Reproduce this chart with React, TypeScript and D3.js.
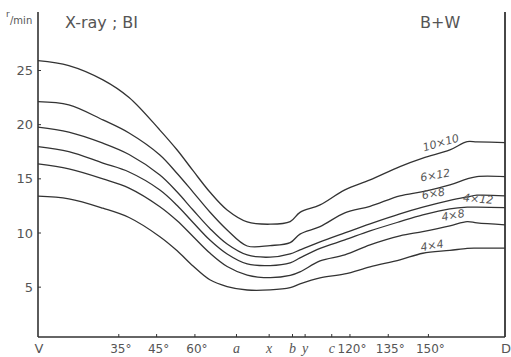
import React from "react";
import { scaleLinear, line, curveCatmullRom } from "d3";

// position along the abscissa, 0 = V, 100 = D
const positions = [0, 6.6, 13.9, 19.5, 26.1, 29.8, 33.2, 36.8, 40.5, 44.8, 49.7, 54, 56.1, 60.4, 65.7, 71.1, 77.5, 82.4, 88.2, 91.9, 94, 100];

const s10x10 = [25.92, 25.46, 24.14, 22.51, 19.5, 17.66, 15.75, 13.78, 12.12, 11.02, 10.81, 11.05, 11.9, 12.59, 13.98, 14.9, 16.13, 16.91, 17.67, 18.44, 18.41, 18.35];
const s6x12 = [22.13, 21.83, 20.44, 19.23, 17.2, 15.49, 13.78, 11.94, 10.28, 8.8, 8.84, 9.11, 9.9, 10.59, 11.86, 12.46, 13.43, 13.82, 14.44, 15.0, 15.21, 15.21];
const s6x8 = [19.77, 19.31, 18.29, 17.25, 15.35, 13.78, 12.12, 10.42, 8.98, 7.97, 7.77, 8.07, 8.44, 9.18, 10.01, 10.84, 11.76, 12.38, 13.01, 13.33, 13.49, 13.43];
const s4x12 = [17.98, 17.52, 16.45, 15.63, 13.97, 12.54, 10.97, 9.35, 8.06, 7.14, 6.99, 7.24, 7.7, 8.58, 9.36, 10.19, 11.05, 11.67, 12.23, 12.38, 12.38, 12.35];
const s4x8 = [16.38, 15.92, 15.0, 14.15, 12.43, 11.13, 9.68, 8.15, 6.91, 6.12, 5.88, 6.08, 6.41, 7.42, 7.98, 8.9, 9.73, 10.13, 10.66, 11.05, 10.93, 10.75];
const s4x4 = [13.4, 13.15, 12.29, 11.43, 9.66, 8.36, 6.95, 5.68, 5.06, 4.74, 4.75, 4.96, 5.3, 5.85, 6.22, 6.87, 7.52, 8.13, 8.39, 8.58, 8.6, 8.6];

const seriesNames = ["10×10", "6×12", "6×8", "4×12", "4×8", "4×4"];
const seriesValues = [s10x10, s6x12, s6x8, s4x12, s4x8, s4x4];
// where each curve's label sits: [position, value, rotation]
const labelPlace: [number, number, number][] = [
  [86.5, 18.0, -16],
  [85.2, 15.0, -10],
  [84.8, 13.3, -10],
  [94.2, 12.8, 5],
  [89.0, 11.3, -10],
  [84.5, 8.5, -10],
];

const xTickPos = [17.3, 25.4, 33.6, 42.5, 49.5, 54.5, 57.2, 62.9, 66.8, 75.0, 83.6];
const xTickLabels = ["35°", "45°", "60°", "a", "x", "b", "y", "c", "120°", "135°", "150°"];
const italicLabels = ["a", "x", "b", "y", "c"];
const yTicks = [5, 10, 15, 20, 25];

const W = 511;
const H = 357;

export default function App() {
  const x = scaleLinear().domain([0, 100]).range([38, 505]);
  const y = scaleLinear().domain([0.4, 30.4]).range([337, 12]);

  const path = line<number>()
    .x((_, i) => x(positions[i]))
    .y((d) => y(d))
    .curve(curveCatmullRom.alpha(0.5));

  const ink = "#333";
  const grey = "#555";

  return (
    <svg
      width={W}
      height={H}
      style={{ position: "absolute", left: 0, top: 0, background: "#fff" }}
      fontFamily="DejaVu Sans, sans-serif"
    >
      {/* frame */}
      <line x1={x(0)} x2={x(0)} y1={y(30.4)} y2={y(0.4)} stroke={ink} strokeWidth={1.6} />
      <line x1={x(100)} x2={x(100)} y1={y(30.4)} y2={y(0.4)} stroke={ink} strokeWidth={1.8} />
      <line x1={x(0)} x2={x(100)} y1={y(0.4)} y2={y(0.4)} stroke={ink} strokeWidth={1.6} />

      {/* y ticks */}
      {yTicks.map((t) => (
        <g key={t}>
          <line x1={x(0)} x2={x(0) + 3} y1={y(t)} y2={y(t)} stroke={ink} strokeWidth={1} />
          <text x={x(0) - 5} y={y(t)} dy="0.35em" textAnchor="end" fontSize={13} fill={grey}>
            {t}
          </text>
        </g>
      ))}
      <text x={6} y={17} fontSize={9} fill={grey}>r</text>
      <text x={10} y={24} fontSize={10} fill={grey}>/min</text>

      {/* x ticks */}
      {xTickPos.map((p, i) => (
        <g key={i}>
          <line x1={x(p)} x2={x(p)} y1={y(0.4)} y2={y(0.4) - 3} stroke={ink} strokeWidth={1} />
          <text
            x={x(p) + (italicLabels.includes(xTickLabels[i]) ? 0 : 2)}
            y={353}
            textAnchor="middle"
            fontSize={italicLabels.includes(xTickLabels[i]) ? 14 : 12}
            fontStyle={italicLabels.includes(xTickLabels[i]) ? "italic" : "normal"}
            fontFamily={italicLabels.includes(xTickLabels[i]) ? "Liberation Serif, serif" : undefined}
            fill={grey}
          >
            {xTickLabels[i]}
          </text>
        </g>
      ))}
      <text x={x(0) + 1} y={353} textAnchor="middle" fontSize={13} fill={grey}>V</text>
      <text x={x(100) + 1} y={353} textAnchor="middle" fontSize={13} fill={grey}>D</text>

      {/* curves */}
      {seriesValues.map((vals, i) => (
        <path key={seriesNames[i]} d={path(vals) || ""} fill="none" stroke={ink} strokeWidth={1.3} />
      ))}
      {seriesNames.map((n, i) => {
        const [p, v, r] = labelPlace[i];
        return (
          <text
            key={n}
            x={x(p)}
            y={y(v)}
            textAnchor="middle"
            fontSize={11}
            fontStyle="italic"
            fill={grey}
            transform={`rotate(${r},${x(p)},${y(v)})`}
          >
            {n}
          </text>
        );
      })}

      {/* titles */}
      <text x={65} y={28} fontSize={16} fill={grey}>X-ray ; BI</text>
      <text x={420} y={28} fontSize={16} fill={grey}>B+W</text>
    </svg>
  );
}
